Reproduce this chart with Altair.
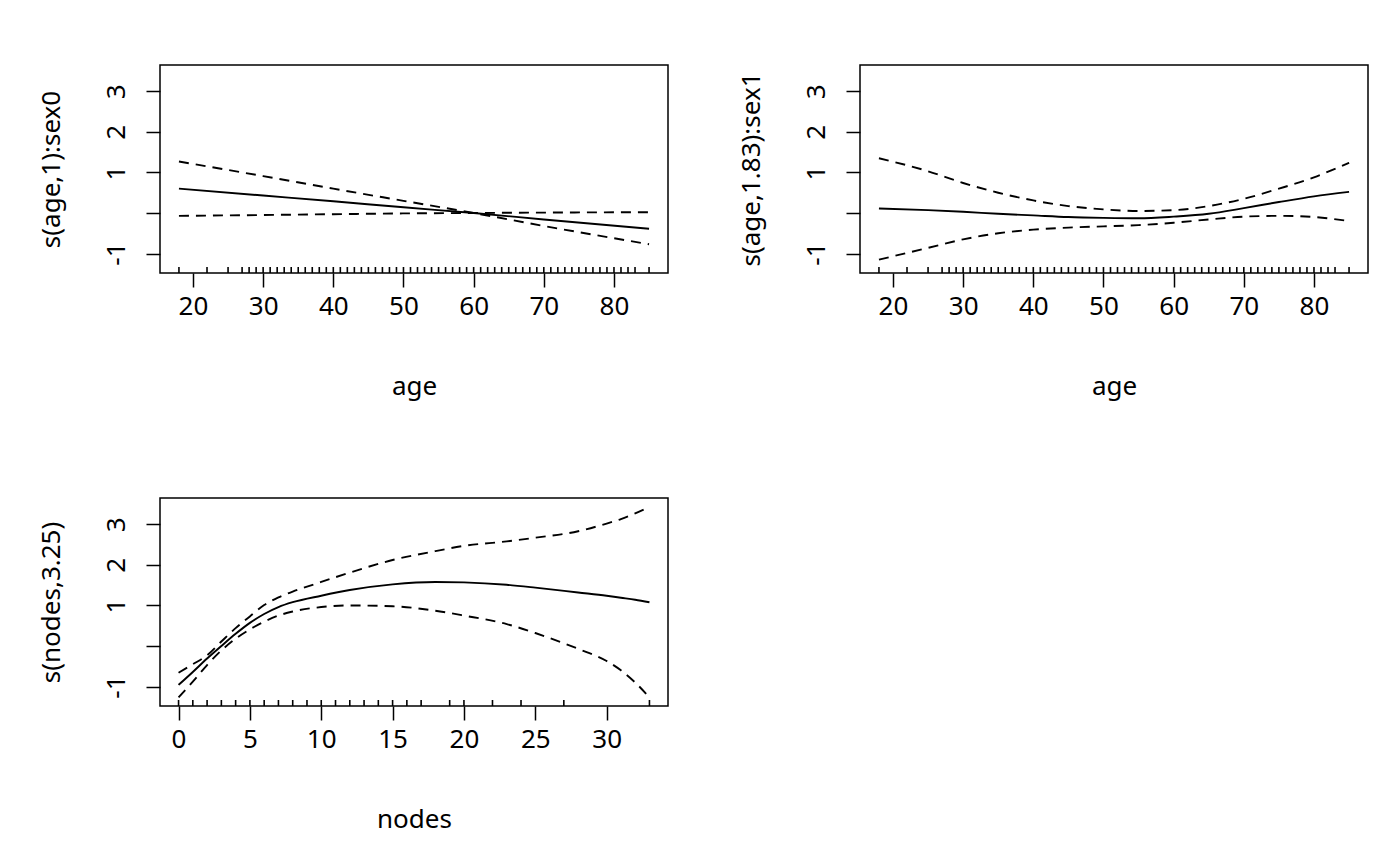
import altair as alt
import pandas as pd

FONT = "Noto Sans"
W, H = 508, 208

y_domain = [-1.48, 3.65]
y_ticks = [-1, 0, 1, 2, 3]
y_labels = ["-1", "", "1", "2", "3"]

# s(age,1):sex0
age_sex0 = [18, 30, 40, 50, 60, 70, 85]
fit_sex0 = [0.60, 0.43, 0.29, 0.14, 0.0, -0.16, -0.39]
upr_sex0 = [1.27, 0.91, 0.60, 0.30, 0.0, -0.32, -0.77]
lwr_sex0 = [-0.07, -0.05, -0.03, -0.01, 0.0, 0.01, 0.02]

# s(age,1.83):sex1
age_sex1 = [18, 25, 30, 35, 40, 45, 50, 55, 60, 65, 70, 75, 80, 85]
fit_sex1 = [0.11, 0.07, 0.03, -0.02, -0.06, -0.10, -0.12, -0.13, -0.09, -0.02, 0.12, 0.27, 0.41, 0.52]
upr_sex1 = [1.35, 1.03, 0.74, 0.50, 0.31, 0.17, 0.09, 0.05, 0.07, 0.17, 0.35, 0.60, 0.88, 1.24]
lwr_sex1 = [-1.15, -0.86, -0.65, -0.50, -0.41, -0.36, -0.33, -0.30, -0.24, -0.16, -0.09, -0.07, -0.10, -0.20]

# s(nodes,3.25)
nodes = [0, 1, 2, 3, 4, 5, 6, 7, 8, 10, 12, 15, 18, 20, 23, 25, 28, 30, 31, 32, 33]
fit_nodes = [-0.96, -0.64, -0.31, 0.0, 0.30, 0.57, 0.79, 0.96, 1.08, 1.24, 1.38, 1.52,
             1.58, 1.57, 1.51, 1.44, 1.32, 1.24, 1.19, 1.14, 1.08]
upr_nodes = [-0.66, -0.45, -0.23, 0.11, 0.44, 0.73, 1.01, 1.20, 1.34, 1.58, 1.81, 2.12,
             2.34, 2.47, 2.58, 2.67, 2.83, 3.02, 3.13, 3.27, 3.43]
lwr_nodes = [-1.27, -0.88, -0.47, -0.11, 0.18, 0.41, 0.60, 0.75, 0.85, 0.96, 1.00, 0.98,
             0.87, 0.75, 0.54, 0.32, -0.07, -0.37, -0.60, -0.90, -1.27]

# rug positions
rug_age = [18, 22, 25, 27, 28, 29, 30, 31, 32, 33, 34, 35, 36, 37, 38, 39, 40,
           41, 42, 43, 44, 45, 46, 47, 48, 49, 50, 51, 52, 53, 54, 55, 56, 57,
           58, 59, 60, 61, 62, 63, 64, 65, 66, 67, 68, 69, 70, 71, 72, 73, 74,
           75, 76, 77, 78, 79, 80, 81, 82, 83, 85]
rug_nodes = [0, 1, 2, 3, 4, 5, 6, 7, 8, 9, 10, 11, 12, 13, 14, 15, 16, 17,
             19, 20, 22, 24, 27, 33]

age_ticks = [20, 30, 40, 50, 60, 70, 80]
node_ticks = [0, 5, 10, 15, 20, 25, 30]

y_label_expr = " : ".join(
    f"datum.value == {v} ? '{lab}'" for v, lab in zip(y_ticks, y_labels)
) + " : datum.label"


def panel(xs, fit, upr, lwr, rug, xname, ytitle, xdomain, xticks):
    curves = pd.DataFrame({"x": xs, "fit": fit, "upper": upr, "lower": lwr})
    rugs = pd.DataFrame({"x": rug})

    xscale = alt.Scale(domain=xdomain, nice=False, zero=False)
    yscale = alt.Scale(domain=y_domain, nice=False, zero=False)
    xaxis = alt.Axis(values=xticks, title=xname, tickSize=14, labelPadding=27,
                     labelBaseline="alphabetic", titleX=W / 2, titleY=121,
                     titleBaseline="alphabetic", labelOverlap=False)
    yaxis = alt.Axis(values=y_ticks, title=ytitle, tickSize=14, labelPadding=22,
                     labelAngle=270, labelAlign="center", labelBaseline="alphabetic",
                     labelExpr=y_label_expr, labelOverlap=False,
                     titleAngle=270, titleX=-101, titleY=H / 2,
                     titleAlign="center", titleBaseline="alphabetic")

    base = alt.Chart(curves)
    fit_line = base.mark_line(color="black", strokeWidth=1.9,
                              interpolate="monotone").encode(
        x=alt.X("x:Q", scale=xscale, axis=xaxis),
        y=alt.Y("fit:Q", scale=yscale, axis=yaxis),
    )
    upper_line = base.mark_line(color="black", strokeWidth=1.9, strokeDash=[10, 7],
                                interpolate="monotone").encode(
        x=alt.X("x:Q"), y=alt.Y("upper:Q"))
    lower_line = base.mark_line(color="black", strokeWidth=1.9, strokeDash=[10, 7],
                                interpolate="monotone").encode(
        x=alt.X("x:Q"), y=alt.Y("lower:Q"))
    rug_marks = alt.Chart(rugs).mark_rule(color="black", strokeWidth=1.6).encode(
        x=alt.X("x:Q"), y=alt.value(H), y2=alt.value(H - 6))

    return alt.layer(fit_line, upper_line, lower_line, rug_marks).properties(
        width=W, height=H)


p1 = panel(age_sex0, fit_sex0, upr_sex0, lwr_sex0, rug_age, "age",
           "s(age,1):sex0", [15.3, 87.7], age_ticks)
p2 = panel(age_sex1, fit_sex1, upr_sex1, lwr_sex1, rug_age, "age",
           "s(age,1.83):sex1", [15.3, 87.7], age_ticks)
p3 = panel(nodes, fit_nodes, upr_nodes, lwr_nodes, rug_nodes, "nodes",
           "s(nodes,3.25)", [-1.3, 34.3], node_ticks)

chart = alt.concat(
    p1, p2, p3, columns=2, spacing={"row": 225, "column": 192}, bounds="flush"
).properties(
    padding={"left": 29, "top": 56, "right": 10, "bottom": 10},
    background="white",
).configure_view(
    stroke="black", strokeWidth=1.5
).configure_axis(
    grid=False, domain=False, tickColor="black", tickWidth=1.5,
    labelFont=FONT, labelFontSize=26, labelColor="black",
    titleFont=FONT, titleFontSize=26, titleColor="black", titleFontWeight="normal",
)

chart.save("out.html", embed_options={"renderer": "svg", "actions": False})
